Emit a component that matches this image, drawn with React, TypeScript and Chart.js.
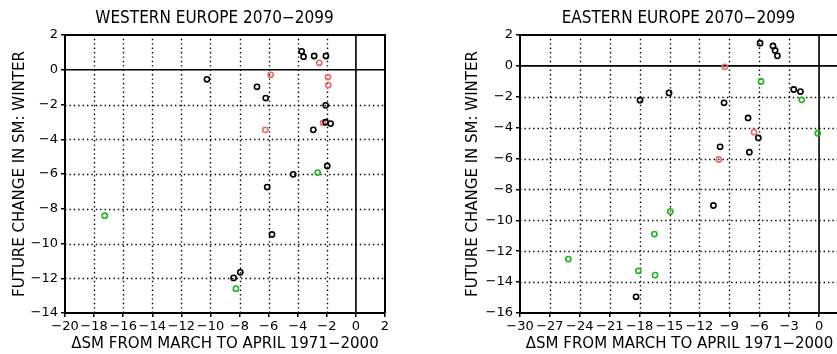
import React, { useEffect, useRef } from "react";
import { Chart, registerables } from "chart.js";

Chart.register(...registerables);

// ---------- text ----------
const westTitle = "WESTERN EUROPE 2070\u22122099";
const eastTitle = "EASTERN EUROPE 2070\u22122099";
const xAxisTitle = "\u0394SM FROM MARCH TO APRIL 1971\u22122000";
const yAxisTitle = "FUTURE CHANGE IN SM: WINTER";

// ---------- axis ranges / ticks ----------
const westXRange = [-20, 2];
const westXStep = 2;
const westYRange = [-14, 2];
const eastXRange = [-30, 2];
const eastXStep = 3;
const eastYRange = [-16, 2];
const yStep = 2;

// ---------- Western Europe data ----------
const westBlackX = [-3.73, -3.6, -2.87, -2.06, -10.24, -6.8, -6.2, -2.08, -2.08, -1.74, -2.93, -1.97, -4.31, -6.1, -5.77, -7.95, -8.41];
const westBlackY = [1.06, 0.75, 0.79, 0.79, -0.55, -0.98, -1.63, -2.05, -3.02, -3.1, -3.46, -5.54, -6.02, -6.75, -9.48, -11.66, -11.98];
const westRedX = [-2.52, -5.86, -1.92, -1.9, -2.25, -6.23];
const westRedY = [0.4, -0.29, -0.42, -0.88, -3.06, -3.46];
const westGreenX = [-2.63, -17.27, -8.25];
const westGreenY = [-5.92, -8.4, -12.6];

// ---------- Eastern Europe data ----------
const eastBlackX = [-5.92, -4.62, -4.41, -4.18, -17.96, -15.05, -9.53, -2.54, -1.87, -7.12, -6.09, -9.93, -6.99, -10.6, -18.36];
const eastBlackY = [1.47, 1.29, 1.0, 0.65, -2.22, -1.75, -2.39, -1.53, -1.66, -3.37, -4.66, -5.24, -5.59, -9.04, -14.95];
const eastRedX = [-9.46, -6.52, -10.06];
const eastRedY = [-0.06, -4.29, -6.06];
const eastGreenX = [-5.82, -1.74, -0.13, -14.92, -16.52, -25.15, -18.13, -16.45];
const eastGreenY = [-1.01, -2.2, -4.36, -9.42, -10.89, -12.51, -13.27, -13.55];

const colBlack = "#000000";
const colRed = "#ea6a6a";
const colGreen = "#22b422";

const TITLE_FONT = '"DejaVu Sans Condensed", "DejaVu Sans", sans-serif';
const AXIS_TITLE_FONT = '"DejaVu Sans", sans-serif';
const TICK_FONT = '"DejaVu Sans", sans-serif';

function pts(xs: number[], ys: number[]) {
  return xs.map((x, i) => ({ x, y: ys[i] }));
}

function fmt(v: number) {
  return v < 0 ? "\u2212" + Math.abs(v) : String(v);
}

const framePlugin = {
  id: "frameGrid",
  beforeDatasetsDraw(chart: any) {
    const { ctx, chartArea: a, scales } = chart;
    const x = scales.x;
    const y = scales.y;
    ctx.save();
    ctx.strokeStyle = "#000";
    ctx.lineWidth = 1.4;
    ctx.setLineDash([1.4, 3]);
    x.ticks.forEach((t: any) => {
      if (t.value === 0 || t.value <= x.min || t.value >= x.max) return;
      const px = Math.round(x.getPixelForValue(t.value)) + 0.5;
      ctx.beginPath();
      ctx.moveTo(px, a.bottom);
      ctx.lineTo(px, a.top);
      ctx.stroke();
    });
    y.ticks.forEach((t: any) => {
      if (t.value === 0 || t.value <= y.min || t.value >= y.max) return;
      const py = Math.round(y.getPixelForValue(t.value)) + 0.5;
      ctx.beginPath();
      ctx.moveTo(a.left, py);
      ctx.lineTo(a.right, py);
      ctx.stroke();
    });
    ctx.setLineDash([]);
    ctx.lineWidth = 1.6;
    const zx = x.getPixelForValue(0);
    const zy = y.getPixelForValue(0);
    ctx.beginPath();
    ctx.moveTo(zx, a.top);
    ctx.lineTo(zx, a.bottom);
    ctx.moveTo(a.left, zy);
    ctx.lineTo(a.right, zy);
    ctx.stroke();
    ctx.lineWidth = 2;
    ctx.beginPath();
    ctx.moveTo(a.left, a.top);
    ctx.lineTo(a.right, a.top);
    ctx.lineTo(a.right, a.bottom);
    ctx.stroke();
    ctx.restore();
  },
};

const titlePlugin = {
  id: "panelTitle",
  afterDraw(chart: any, _args: any, opts: any) {
    const { ctx } = chart;
    ctx.save();
    ctx.font = `17px ${TITLE_FONT}`;
    ctx.fillStyle = "#000";
    ctx.textAlign = "center";
    ctx.textBaseline = "middle";
    ctx.fillText(opts.text, opts.cx, opts.cy);
    ctx.restore();
  },
};

type PanelProps = {
  left: number;
  width: number;
  padRight: number;
  yAxisWidth: number;
  title: string;
  titleCx: number;
  xRange: number[];
  xStep: number;
  yRange: number[];
  black: { x: number; y: number }[];
  red: { x: number; y: number }[];
  green: { x: number; y: number }[];
};

function Panel(p: PanelProps) {
  const ref = useRef<HTMLCanvasElement | null>(null);
  useEffect(() => {
    if (!ref.current) return;
    const ds = (label: string, data: any[], color: string) => ({
      label,
      data,
      borderColor: color,
      backgroundColor: "rgba(0,0,0,0)",
      pointRadius: 2.6,
      pointBorderWidth: 1.6,
      pointStyle: "circle",
      showLine: false,
    });
    const chart = new Chart(ref.current, {
      type: "scatter",
      data: {
        datasets: [
          ds("black", p.black, colBlack),
          ds("red", p.red, colRed),
          ds("green", p.green, colGreen),
        ],
      },
      options: {
        animation: false,
        responsive: false,
        devicePixelRatio: 1,
        layout: { padding: { left: 0, top: 35, right: p.padRight, bottom: 0 } },
        plugins: {
          legend: { display: false },
          tooltip: { enabled: false },
          panelTitle: { text: p.title, cx: p.titleCx, cy: 19 },
        } as any,
        scales: {
          x: {
            type: "linear",
            min: p.xRange[0],
            max: p.xRange[1],
            ticks: {
              stepSize: p.xStep,
              color: "#000",
              font: { family: TICK_FONT, size: 13 },
              padding: 2,
              maxRotation: 0,
              autoSkip: false,
              callback: (v: any) => (v > p.xRange[1] - 0.5 && p.padRight < 30 ? null : fmt(Number(v))),
            },
            grid: { drawOnChartArea: false, drawTicks: true, tickLength: 4, color: "#000", lineWidth: 1.5 },
            border: { display: true, color: "#000", width: 2 },
            title: {
              display: true,
              text: xAxisTitle,
              color: "#000",
              font: { family: AXIS_TITLE_FONT, size: 15, lineHeight: 1.2 },
              padding: { top: 0, bottom: 1 },
            },
            afterFit: (s: any) => {
              s.height = 41;
            },
          },
          y: {
            type: "linear",
            min: p.yRange[0],
            max: p.yRange[1],
            ticks: {
              stepSize: yStep,
              color: "#000",
              font: { family: TICK_FONT, size: 13 },
              padding: 3,
              autoSkip: false,
              callback: (v: any) => fmt(Number(v)),
            },
            grid: { drawOnChartArea: false, drawTicks: true, tickLength: 4, color: "#000", lineWidth: 1.5 },
            border: { display: true, color: "#000", width: 2 },
            title: {
              display: true,
              text: yAxisTitle,
              color: "#000",
              font: { family: AXIS_TITLE_FONT, size: 15, lineHeight: 1.2 },
              padding: { top: 11, bottom: 0 },
            },
            afterFit: (s: any) => {
              s.width = p.yAxisWidth;
            },
          },
        },
      } as any,
      plugins: [framePlugin, titlePlugin],
    });
    return () => chart.destroy();
  }, []);
  return (
    <canvas
      ref={ref}
      width={p.width}
      height={354}
      style={{ position: "absolute", left: p.left, top: 0, width: p.width, height: 354 }}
    />
  );
}

export default function App() {
  return (
    <div
      style={{
        position: "absolute",
        left: 0,
        top: 0,
        width: 837,
        height: 354,
        overflow: "hidden",
        background: "#fff",
      }}
    >
      <Panel
        left={0}
        width={418}
        padRight={33}
        yAxisWidth={65}
        title={westTitle}
        titleCx={214.5}
        xRange={westXRange}
        xStep={westXStep}
        yRange={westYRange}
        black={pts(westBlackX, westBlackY)}
        red={pts(westRedX, westRedY)}
        green={pts(westGreenX, westGreenY)}
      />
      <Panel
        left={453}
        width={406}
        padRight={20}
        yAxisWidth={67}
        title={eastTitle}
        titleCx={225.5}
        xRange={eastXRange}
        xStep={eastXStep}
        yRange={eastYRange}
        black={pts(eastBlackX, eastBlackY)}
        red={pts(eastRedX, eastRedY)}
        green={pts(eastGreenX, eastGreenY)}
      />
    </div>
  );
}
